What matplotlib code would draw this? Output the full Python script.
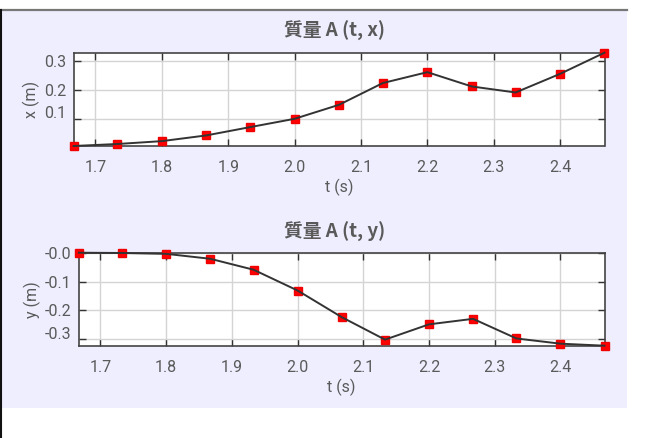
import matplotlib
matplotlib.use('Agg')
import matplotlib.pyplot as plt
from matplotlib.patches import Rectangle
from matplotlib.lines import Line2D
from matplotlib.transforms import ScaledTranslation

plt.rcParams['font.family'] = ['Roboto', 'Noto Sans CJK TC', 'DejaVu Sans']

# sampled trajectory of mass A
t = [1.667, 1.733, 1.800, 1.867, 1.933, 2.000, 2.067, 2.133, 2.200, 2.267, 2.333, 2.400, 2.467]
x = [0.004, 0.011, 0.021, 0.041, 0.070, 0.099, 0.148, 0.224, 0.262, 0.212, 0.191, 0.256, 0.330]
y = [0.000, -0.001, -0.004, -0.021, -0.059, -0.131, -0.223, -0.301, -0.248, -0.229, -0.297, -0.315, -0.322]

t_ticks = [1.7, 1.8, 1.9, 2.0, 2.1, 2.2, 2.3, 2.4]
x_ticks = [0.1, 0.2, 0.3]
y_ticks = [0.0, -0.1, -0.2, -0.3]
y_ticklabels = ['-0.0', '-0.1', '-0.2', '-0.3']

W, H = 664, 438
fig = plt.figure(figsize=(W / 100, H / 100), dpi=100)
fig.patch.set_facecolor('white')

# lavender panel with a grey top rule and dark left edge
fig.patches.append(Rectangle((0, 1 - 408 / H), 627 / W, 398 / H, transform=fig.transFigure,
                             facecolor='#eeeeff', edgecolor='none', zorder=-5))
fig.lines.append(Line2D([0, 627 / W], [1 - 10 / H] * 2, transform=fig.transFigure,
                        color='#777777', lw=1.6, zorder=-4))
fig.lines.append(Line2D([0.5 / W] * 2, [0, 1 - 10 / H], transform=fig.transFigure,
                        color='#111111', lw=1.5, zorder=-4))

txt = '#5a5a5a'


def panel(rect, vals, ticks, labels, ylabel, title, title_y):
    ax = fig.add_axes(rect)
    ax.set_facecolor('white')
    ax.plot(t, vals, 's', color='#ff0000', ms=5.5, mec='#f00000', zorder=3, clip_on=False)
    ax.plot(t, vals, '-', color='#333333', lw=1.4, zorder=4, clip_on=False)
    ax.set_xlim(min(t), max(t))
    ax.set_ylim(min(vals), max(vals))
    ax.set_xticks(t_ticks)
    ax.set_xticklabels([f'{v:.1f}' for v in t_ticks])
    ax.set_yticks(ticks)
    ax.set_yticklabels(labels)
    ax.grid(True, color='#d4d4d4', lw=1)
    ax.tick_params(direction='in', length=5, width=1, color='#333333', labelcolor=txt,
                   labelsize=11.5, top=True, right=True)
    ax.tick_params(axis='x', pad=10)
    ax.tick_params(axis='y', pad=5)
    # keep the lowest y label from spilling below the frame
    low = min(range(len(ticks)), key=lambda i: ticks[i])
    lab = ax.yaxis.get_major_ticks()[low].label1
    lab.set_transform(lab.get_transform() + ScaledTranslation(0, 0.065, fig.dpi_scale_trans))
    for s in ax.spines.values():
        s.set_color('#444444')
        s.set_linewidth(1.2)
    ax.set_xlabel('t (s)', color=txt, fontsize=11.5, labelpad=3)
    ax.set_ylabel(ylabel, color=txt, fontsize=11.5, labelpad=3)
    fig.text(335 / W, 1 - title_y / H, title, ha='center', va='center',
             fontsize=13.5, fontweight='bold', color=txt,
             family=['Noto Sans CJK TC', 'DejaVu Sans'])
    return ax


panel([73.6 / W, 1 - 146 / H, (604.5 - 73.6) / W, 93.3 / H], x, x_ticks,
      [f'{v:.1f}' for v in x_ticks], 'x (m)', '質量 A (t, x)', 31)
panel([78.8 / W, 1 - 345.7 / H, (604.5 - 78.8) / W, 93 / H], y, y_ticks,
      y_ticklabels, 'y (m)', '質量 A (t, y)', 232)

fig.savefig('out.png', dpi=100)
plt.close(fig)
